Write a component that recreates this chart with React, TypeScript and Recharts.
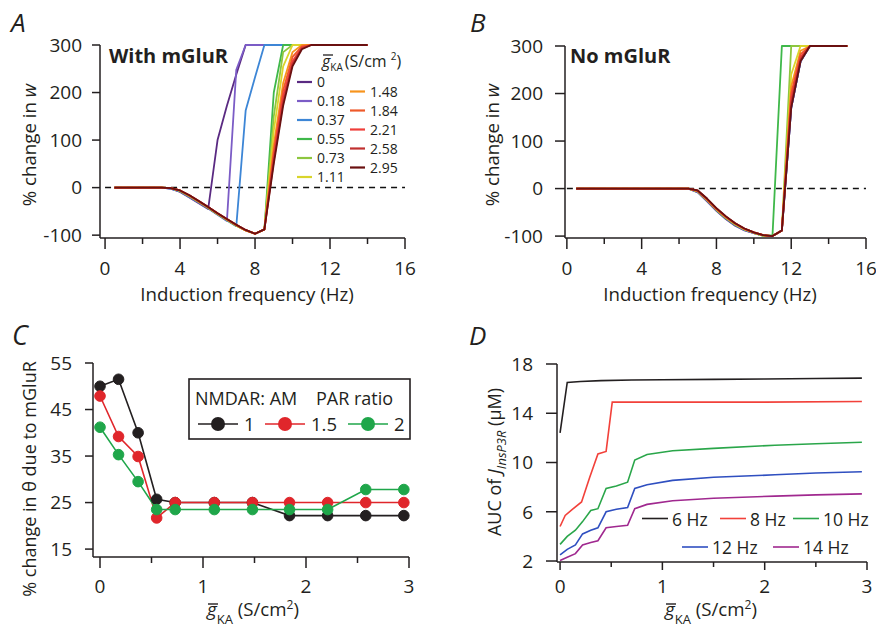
import React from 'react';
import { LineChart, Line, XAxis, YAxis, ReferenceLine } from 'recharts';

const FONT = '"Open Sans", "DejaVu Sans", sans-serif';
const W = 876;
const H = 629;
const INK = '#231f20';
const TICK_FS = 19;
const LABEL_FS = 18.7;

// ---------- Panels A & B: gKA series ----------
const gKALabels = ['0', '0.18', '0.37', '0.55', '0.73', '1.11', '1.48', '1.84', '2.21', '2.58', '2.95'];
const gKAColors = ['#5a2a82', '#7b5cc6', '#3d86d6', '#3fb84a', '#8dc63f', '#d9d52b', '#f7941d', '#ee5a2a', '#ef3e3a', '#c0302f', '#6a1010'];

const freqA = [0.5, 3, 3.5, 4, 4.5, 5, 5.5, 6, 6.5, 7, 7.5, 8, 8.5, 9, 9.5, 10, 10.5, 11, 14];
const wA_0 = [0, 0, -2, -9, -21, -33, -45, 100, 172, 238, 300, 300, 300, 300, 300, 300, 300, 300, 300];
const wA_018 = [0, 0, -2, -8, -20, -32, -44, -57, -70, 248, 300, 300, 300, 300, 300, 300, 300, 300, 300];
const wA_037 = [0, 0, -2, -8, -19, -31, -43, -56, -69, -81, 162, 232, 300, 300, 300, 300, 300, 300, 300];
const wA_055 = [0, 0, -1, -7, -18, -30, -43, -56, -68, -80, -90, -97, -88, 200, 300, 300, 300, 300, 300];
const wA_073 = [0, 0, -1, -7, -18, -30, -42, -55, -68, -80, -90, -97, -88, 150, 285, 300, 300, 300, 300];
const wA_111 = [0, 0, -1, -7, -17, -29, -42, -55, -67, -79, -90, -97, -88, 120, 255, 300, 300, 300, 300];
const wA_148 = [0, 0, -1, -6, -17, -29, -42, -55, -67, -79, -90, -97, -88, 90, 220, 285, 300, 300, 300];
const wA_184 = [0, 0, -1, -6, -17, -29, -41, -54, -67, -79, -90, -97, -88, 75, 205, 275, 297, 300, 300];
const wA_221 = [0, 0, -1, -6, -16, -28, -41, -54, -66, -78, -89, -97, -88, 65, 192, 266, 295, 300, 300];
const wA_258 = [0, 0, -1, -6, -16, -28, -41, -54, -66, -78, -89, -97, -88, 57, 180, 260, 293, 300, 300];
const wA_295 = [0, 0, -1, -6, -16, -28, -41, -54, -66, -78, -89, -97, -88, 50, 172, 255, 291, 300, 300];
const seriesA = [wA_0, wA_018, wA_037, wA_055, wA_073, wA_111, wA_148, wA_184, wA_221, wA_258, wA_295];

const freqB = [0.5, 6.5, 7, 7.5, 8, 8.5, 9, 9.5, 10, 10.5, 11, 11.5, 12, 12.5, 13, 15];
const wB_0 = [0, 0, -8, -27, -47, -64, -78, -88, -94, -99, -100, -88, 170, 268, 300, 300];
const wB_018 = [0, 0, -7, -26, -46, -63, -77, -87, -94, -99, -100, -88, 170, 268, 300, 300];
const wB_037 = [0, 0, -7, -25, -45, -62, -76, -87, -93, -99, -100, -88, 170, 268, 300, 300];
const wB_055 = [0, 0, -6, -25, -45, -62, -76, -86, -93, -99, -98, 300, 300, 300, 300, 300];
const wB_073 = [0, 0, -6, -24, -44, -61, -75, -86, -93, -99, -100, -88, 300, 300, 300, 300];
const wB_111 = [0, 0, -6, -24, -44, -61, -75, -86, -93, -99, -100, -88, 240, 300, 300, 300];
const wB_148 = [0, 0, -5, -23, -43, -60, -74, -85, -92, -98, -100, -88, 215, 290, 300, 300];
const wB_184 = [0, 0, -5, -23, -43, -60, -74, -85, -92, -98, -100, -88, 200, 283, 300, 300];
const wB_221 = [0, 0, -5, -22, -42, -59, -73, -85, -92, -98, -100, -88, 190, 277, 300, 300];
const wB_258 = [0, 0, -4, -22, -42, -59, -73, -84, -92, -98, -100, -88, 180, 272, 300, 300];
const wB_295 = [0, 0, -4, -21, -41, -58, -73, -84, -92, -98, -100, -88, 170, 268, 300, 300];
const seriesB = [wB_0, wB_018, wB_037, wB_055, wB_073, wB_111, wB_148, wB_184, wB_221, wB_258, wB_295];

const ticksAB_X = [0, 2, 4, 6, 8, 10, 12, 14, 16];
const ticksAB_Y = [-100, 0, 100, 200, 300];

// ---------- Panel C ----------
const gKA_C = [0, 0.18, 0.37, 0.55, 0.73, 1.11, 1.48, 1.84, 2.21, 2.58, 2.95];
const thetaRatio1 = [50, 51.5, 40, 25.7, 25, 25, 25, 22.2, 22.2, 22.2, 22.2];
const thetaRatio15 = [47.9, 39.2, 34.9, 21.7, 25, 25, 25, 25, 25, 25, 25];
const thetaRatio2 = [41.2, 35.3, 29.5, 23.5, 23.5, 23.5, 23.5, 23.5, 23.5, 27.8, 27.8];
const ratioLabels = ['1', '1.5', '2'];
const ratioColors = ['#231f20', '#e0262b', '#1fa64a'];
const ticksC_X = [0, 0.5, 1, 1.5, 2, 2.5, 3];
const ticksC_Y = [15, 25, 35, 45, 55];

// ---------- Panel D ----------
const d6x = [0, 0.07, 0.2, 0.4, 0.7, 1.0, 1.5, 2.0, 2.5, 2.95];
const d6y = [12.4, 16.5, 16.58, 16.65, 16.7, 16.72, 16.75, 16.78, 16.82, 16.85];
const d8x = [0, 0.05, 0.12, 0.21, 0.29, 0.37, 0.45, 0.51, 1.0, 2.0, 2.95];
const d8y = [4.8, 5.7, 6.2, 6.8, 8.8, 10.7, 10.9, 14.9, 14.9, 14.9, 14.95];
const dLowX = [0, 0.07, 0.15, 0.22, 0.3, 0.37, 0.45, 0.55, 0.66, 0.73, 0.85, 1.1, 1.5, 2.1, 2.5, 2.95];
const d10y = [3.35, 4.0, 4.5, 5.2, 6.1, 6.25, 7.9, 8.1, 8.4, 10.2, 10.65, 10.95, 11.15, 11.4, 11.52, 11.65];
const d12y = [2.5, 2.95, 3.3, 4.2, 4.5, 4.7, 6.0, 6.2, 6.35, 7.9, 8.2, 8.55, 8.8, 9.0, 9.15, 9.25];
const d14y = [2.05, 2.3, 2.6, 3.3, 3.5, 3.65, 4.7, 4.8, 4.9, 6.25, 6.6, 6.9, 7.1, 7.27, 7.37, 7.45];
const freqLabelsD = ['6 Hz', '8 Hz', '10 Hz', '12 Hz', '14 Hz'];
const freqColorsD = ['#231f20', '#f2413a', '#2aa64a', '#2f4fc0', '#a0288f'];
const ticksD_X = [0, 0.5, 1, 1.5, 2, 2.5, 3];
const ticksD_Y = [2, 6, 10, 14, 18];

// ---------- tables built from arrays ----------
const rowsA = freqA.map((f, i) => {
  const r: any = { f };
  seriesA.forEach((s, k) => (r['s' + k] = s[i]));
  return r;
});
const rowsB = freqB.map((f, i) => {
  const r: any = { f };
  seriesB.forEach((s, k) => (r['s' + k] = s[i]));
  return r;
});
const rowsC = gKA_C.map((g, i) => ({ g, r1: thetaRatio1[i], r15: thetaRatio15[i], r2: thetaRatio2[i] }));
const pts = (xs: number[], ys: number[]) => xs.map((x, i) => ({ x, y: ys[i] }));
const dSeries = [pts(d6x, d6y), pts(d8x, d8y), pts(dLowX, d10y), pts(dLowX, d12y), pts(dLowX, d14y)];

// ---------- tick renderers ----------
const isMult = (v: number, m: number) => Math.abs(v / m - Math.round(v / m)) < 1e-6;

const makeXTick = (every: number, major: number, minor: number, dy: number) => (props: any) => {
  const { x, y, payload } = props;
  const v = payload.value;
  const maj = isMult(v, every);
  return (
    <g>
      <line x1={x} x2={x} y1={y} y2={y + (maj ? major : minor)} stroke={INK} strokeWidth={1.5} />
      {maj && (
        <text x={x} y={y + dy} textAnchor="middle" fontSize={TICK_FS} fontFamily={FONT} fill={INK}>
          {v}
        </text>
      )}
    </g>
  );
};

const makeYTick = (len: number, gap: number) => (props: any) => {
  const { x, y, payload } = props;
  return (
    <g>
      <line x1={x} x2={x - len} y1={y} y2={y} stroke={INK} strokeWidth={1.5} />
      <text x={x - gap} y={y} dy="0.36em" textAnchor="end" fontSize={TICK_FS} fontFamily={FONT} fill={INK}>
        {payload.value}
      </text>
    </g>
  );
};

const axisLine = { stroke: INK, strokeWidth: 1.5 };
const layer: React.CSSProperties = { position: 'absolute', left: 0, top: 0 };

const FreqPanel = ({ rows, series, margin, xDomain, yDomain, xTick, yTick, width }: any) => (
  <div style={layer}>
    <LineChart width={W} height={H} data={rows} margin={margin}>
      <XAxis dataKey="f" type="number" domain={xDomain} ticks={ticksAB_X} interval={0} tickSize={0} tickMargin={0}
        tickLine={false} axisLine={axisLine} height={30} tick={xTick} />
      <YAxis type="number" domain={yDomain} ticks={ticksAB_Y} interval={0} tickSize={0} tickMargin={0}
        tickLine={false} axisLine={axisLine} width={40} tick={yTick} />
      <ReferenceLine segment={[{ x: 0, y: 0 }, { x: 16, y: 0 }]} stroke="#111" strokeWidth={1.5} strokeDasharray="6 5" />
      {series.map((_: any, k: number) => (
        <Line key={k} dataKey={'s' + k} stroke={gKAColors[k]} strokeWidth={width} dot={false}
          isAnimationActive={false} strokeLinejoin="round" />
      ))}
    </LineChart>
  </div>
);

const txt = { fontFamily: FONT, fill: INK } as any;

const GkaLabel = ({ x, y }: { x: number; y: number }) => (
  <g>
    <text x={x} y={y} fontSize={LABEL_FS} {...txt}>
      <tspan fontStyle="italic">g</tspan>
      <tspan fontSize={13} dy={8}>KA</tspan>
      <tspan dy={-8}> (S/cm</tspan>
      <tspan fontSize={12} dy={-7}>2</tspan>
      <tspan dy={7}>)</tspan>
    </text>
    <line x1={x + 1} x2={x + 11} y1={y - 12} y2={y - 12} stroke={INK} strokeWidth={1.4} />
  </g>
);

export default function App() {
  return (
    <div style={{ position: 'absolute', left: 0, top: 0, width: W, height: H, background: '#fff' }}>
      {/* Panel A */}
      <FreqPanel rows={rowsA} series={seriesA} margin={{ top: 45, left: 60, right: 471, bottom: 361 }}
        xDomain={[-0.27, 16]} yDomain={[-106, 300]} xTick={makeXTick(4, 11, 6, 37)} yTick={makeYTick(8, 18)} width={1.8} />
      {/* Panel B */}
      <FreqPanel rows={rowsB} series={seriesB} margin={{ top: 46, left: 525, right: 10, bottom: 361 }}
        xDomain={[-0.1, 16]} yDomain={[-104, 300]} xTick={makeXTick(4, 11, 6, 37)} yTick={makeYTick(10, 22)} width={1.8} />

      {/* Panel C */}
      <div style={layer}>
        <LineChart width={W} height={H} data={rowsC} margin={{ top: 363, left: 53, right: 467, bottom: 42 }}>
          <XAxis dataKey="g" type="number" domain={[-0.068, 3]} ticks={ticksC_X} interval={0} tickSize={0} tickMargin={0}
            tickLine={false} axisLine={axisLine} height={30} tick={makeXTick(1, 11, 6, 36)} />
          <YAxis type="number" domain={[13.3, 55]} ticks={ticksC_Y} interval={0} tickSize={0} tickMargin={0}
            tickLine={false} axisLine={axisLine} width={40} tick={makeYTick(8, 21)} />
          {['r1', 'r15', 'r2'].map((key, k) => (
            <Line key={key} dataKey={key} stroke={ratioColors[k]} strokeWidth={1.6}
              dot={{ r: 5.3, fill: ratioColors[k], stroke: ratioColors[k], strokeWidth: 1 }}
              isAnimationActive={false} />
          ))}
        </LineChart>
      </div>

      {/* Panel D */}
      <div style={layer}>
        <LineChart width={W} height={H} margin={{ top: 364, left: 517, right: 9, bottom: 37 }}>
          <XAxis dataKey="x" type="number" domain={[-0.03, 3]} ticks={ticksD_X} interval={0} tickSize={0} tickMargin={0}
            tickLine={false} axisLine={axisLine} height={30} tick={makeXTick(1, 8, 5, 31)} allowDuplicatedCategory={false} />
          <YAxis type="number" domain={[1.92, 18]} ticks={ticksD_Y} interval={0} tickSize={0} tickMargin={0}
            tickLine={false} axisLine={axisLine} width={40} tick={makeYTick(11, 24)} />
          {dSeries.map((d, k) => (
            <Line key={k} data={d} dataKey="y" stroke={freqColorsD[k]} strokeWidth={1.6} dot={false}
              isAnimationActive={false} />
          ))}
        </LineChart>
      </div>

      {/* text overlay */}
      <svg width={W} height={H} style={layer}>
        {/* panel letters */}
        <text x={11} y={32} fontSize={26} fontStyle="italic" {...txt}>A</text>
        <text x={470} y={32} fontSize={26} fontStyle="italic" {...txt}>B</text>
        <text x={12} y={345} fontSize={27} fontStyle="italic" {...txt}>C</text>
        <text x={469} y={345} fontSize={26} fontStyle="italic" {...txt}>D</text>

        {/* Panel A texts */}
        <text x={109} y={63} fontSize={20} fontWeight="bold" {...txt}>With mGluR</text>
        <text transform="translate(36,145) rotate(-90)" textAnchor="middle" fontSize={LABEL_FS} {...txt}>
          % change in <tspan fontStyle="italic">w</tspan>
        </text>
        <text x={247} y={301} textAnchor="middle" fontSize={LABEL_FS} {...txt}>Induction frequency (Hz)</text>

        {/* gKA legend */}
        <text x={322} y={67} fontSize={16} {...txt}>
          <tspan fontStyle="italic">g</tspan>
          <tspan fontSize={10} dy={4}>KA</tspan>
          <tspan dy={-4} dx={2}>(S/cm </tspan>
          <tspan fontSize={10} dy={-7}>2</tspan>
          <tspan dy={7}>)</tspan>
        </text>
        <line x1={323} x2={333} y1={55} y2={55} stroke={INK} strokeWidth={1.3} />
        {gKALabels.map((g, k) => {
          const col = k < 6 ? 0 : 1;
          const row = k < 6 ? k : k - 6;
          const cy = col === 0 ? 82 + row * 19 : 91.5 + row * 19;
          const lx = col === 0 ? 297 : 350;
          return (
            <g key={g}>
              <line x1={lx} x2={lx + 15} y1={cy} y2={cy} stroke={gKAColors[k]} strokeWidth={2.2} />
              <text x={lx + 20} y={cy + 5} fontSize={14} {...txt}>{g}</text>
            </g>
          );
        })}

        {/* Panel B texts */}
        <text x={570} y={63} fontSize={20} fontWeight="bold" {...txt}>No mGluR</text>
        <text transform="translate(499,145) rotate(-90)" textAnchor="middle" fontSize={LABEL_FS} {...txt}>
          % change in <tspan fontStyle="italic">w</tspan>
        </text>
        <text x={710} y={301} textAnchor="middle" fontSize={LABEL_FS} {...txt}>Induction frequency (Hz)</text>

        {/* Panel C texts */}
        <text transform="translate(36,479) rotate(-90)" textAnchor="middle" fontSize={18} {...txt}>
          % change in θ due to mGluR
        </text>
        <GkaLabel x={207} y={616} />
        <rect x={189} y={379} width={221} height={60} fill="#fff" stroke={INK} strokeWidth={1.6} />
        <text x={195} y={405} fontSize={18} {...txt}>NMDAR: AM</text>
        <text x={316} y={405} fontSize={18} {...txt}>PAR ratio</text>
        {ratioLabels.map((lab, k) => {
          const x0 = [198, 265, 348][k];
          return (
            <g key={lab}>
              <line x1={x0} x2={x0 + 40} y1={424} y2={424} stroke={ratioColors[k]} strokeWidth={1.6} />
              <circle cx={x0 + 20} cy={424} r={7} fill={ratioColors[k]} />
              <text x={x0 + 46} y={430.5} fontSize={18.5} {...txt}>{lab}</text>
            </g>
          );
        })}

        {/* Panel D texts */}
        <text transform="translate(501,462) rotate(-90)" textAnchor="middle" fontSize={18} {...txt}>
          AUC of <tspan fontStyle="italic">J</tspan>
          <tspan fontStyle="italic" fontSize={13} dy={5}>InsP3R</tspan>
          <tspan dy={-5}> (μM)</tspan>
        </text>
        <GkaLabel x={665} y={616} />
        {freqLabelsD.map((lab, k) => {
          const lx = [642, 720, 793, 682, 773][k];
          const cy = k < 3 ? 518.5 : 547;
          return (
            <g key={lab}>
              <line x1={lx} x2={lx + 26} y1={cy} y2={cy} stroke={freqColorsD[k]} strokeWidth={1.6} />
              <text x={lx + 30} y={cy + 7} fontSize={17.5} {...txt}>{lab}</text>
            </g>
          );
        })}
      </svg>
    </div>
  );
}
